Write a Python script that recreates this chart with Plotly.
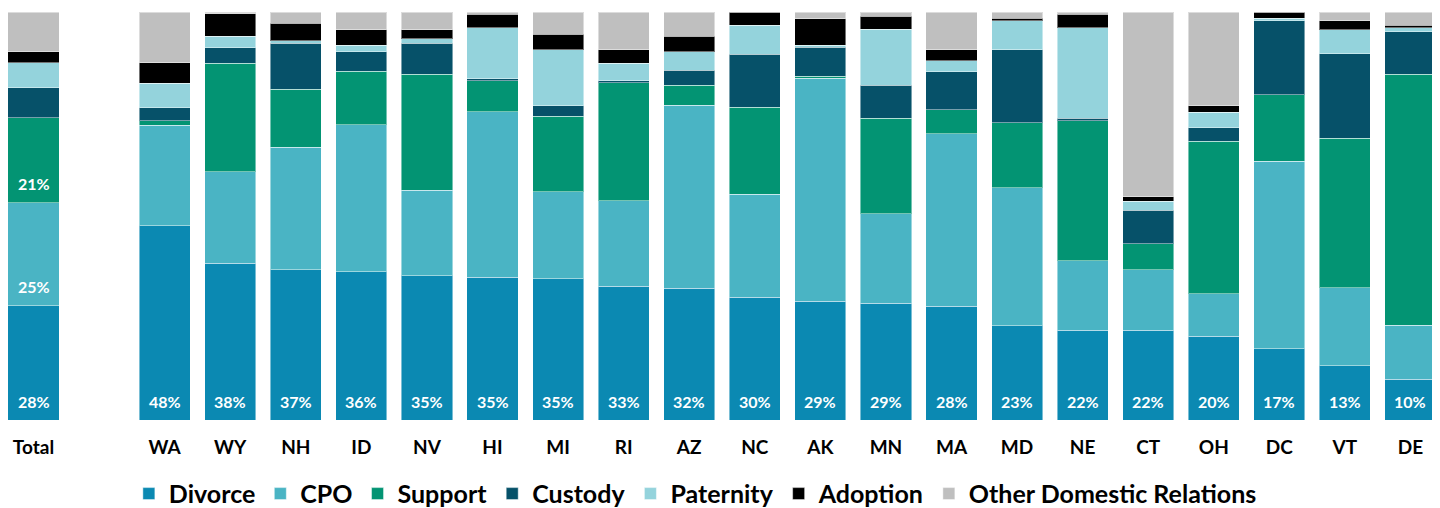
import plotly.graph_objects as go

categories = ["Total", " ", "WA", "WY", "NH", "ID", "NV", "HI", "MI", "RI", "AZ",
              "NC", "AK", "MN", "MA", "MD", "NE", "CT", "OH", "DC", "VT", "DE"]

divorce   = [28.0, None, 47.7, 38.4, 36.8, 36.3, 35.4, 35.0, 34.6, 32.8, 32.3,
             30.1, 29.1, 28.7, 27.9, 23.1, 22.0, 22.0, 20.4, 17.4, 13.3, 10.0]
cpo       = [25.4, None, 24.7, 22.4, 30.0, 36.1, 20.9, 40.5, 21.3, 21.0, 44.9,
             25.3, 54.8, 22.0, 42.2, 33.9, 17.0, 14.9, 10.4, 45.9, 19.2, 13.2]
support   = [20.8, None, 1.05, 26.7, 14.3, 13.1, 28.4, 7.7, 18.5, 28.9, 4.8,
             21.3, 0.4, 23.5, 6.0, 15.9, 34.4, 6.4, 37.2, 16.3, 36.6, 61.6]
custody   = [7.4, None, 3.2, 3.7, 11.3, 4.8, 7.7, 0.4, 2.6, 0.5, 3.7,
             13.0, 7.1, 8.1, 9.2, 17.9, 0.5, 8.2, 3.3, 18.0, 20.7, 10.3]
paternity = [6.1, None, 6.0, 2.9, 0.5, 1.6, 1.1, 12.6, 13.7, 4.3, 4.5,
             7.1, 0.6, 13.7, 2.7, 7.2, 22.3, 2.2, 3.8, 0.7, 6.0, 1.1]
adoption  = [2.7, None, 5.0, 5.5, 4.3, 3.7, 2.1, 3.3, 3.8, 3.3, 3.8,
             3.3, 6.4, 3.3, 2.7, 0.6, 3.3, 1.1, 1.6, 1.5, 2.2, 0.5]
other     = [9.8, None, 12.5, 0.4, 2.8, 4.4, 4.4, 0.5, 5.5, 9.3, 6.0,
             0.0, 1.7, 1.0, 9.3, 1.5, 0.5, 45.3, 22.9, 0.0, 2.1, 3.3]

series_names = ["Divorce", "CPO", "Support", "Custody", "Paternity", "Adoption",
                "Other Domestic Relations"]
series_values = [divorce, cpo, support, custody, paternity, adoption, other]
colors = ["#0B89B2", "#4AB4C4", "#039473", "#065169", "#94D3DC", "#000000", "#BFBFBF"]

# which segments carry a percentage label
labelled = {
    "Divorce": [True] * len(categories),
    "CPO": [c == "Total" for c in categories],
    "Support": [c == "Total" for c in categories],
}

FONT = "Lato"

fig = go.Figure()
for name, vals, col in zip(series_names, series_values, colors):
    fig.add_trace(go.Bar(
        x=categories, y=vals, name=name,
        marker=dict(color=col, line=dict(color="rgba(255,255,255,0.45)", width=1)),
        hoverinfo="x+y+name",
    ))

# percentage labels placed just above the base of each labelled segment
annotations = []
for i, cat in enumerate(categories):
    if divorce[i] is None:
        continue
    total = sum(s[i] for s in series_values)
    base = 0.0
    for name, vals in zip(series_names, series_values):
        flags = labelled.get(name)
        if flags and flags[i]:
            annotations.append(dict(
                x=cat, y=base / total * 100, xref="x", yref="y",
                text=f"{round(vals[i])}%", showarrow=False,
                yanchor="middle", yshift=19,
                font=dict(color="white", size=16, family=FONT, weight="bold"),
            ))
        base += vals[i]

fig.update_layout(
    barmode="stack", barnorm="percent", bargap=0.22,
    width=1432, height=500,
    margin=dict(l=0, r=0, t=4, b=88, autoexpand=False),
    plot_bgcolor="white", paper_bgcolor="white",
    font=dict(family=FONT, color="black"),
    annotations=annotations,
    xaxis=dict(type="category", range=[-0.389, 21.45], showgrid=False,
               showline=False, ticks="", ticklabelstandoff=14, automargin=False,
               tickfont=dict(size=19, family=FONT, weight="bold", color="black")),
    yaxis=dict(range=[0, 100], visible=False, showgrid=False),
    legend=dict(orientation="h", x=0.48, xanchor="center", y=-0.181,
                yanchor="middle", font=dict(size=25, family=FONT, weight="bold"),
                traceorder="normal", itemwidth=30),
    showlegend=True,
)

fig.write_html("out.html")
